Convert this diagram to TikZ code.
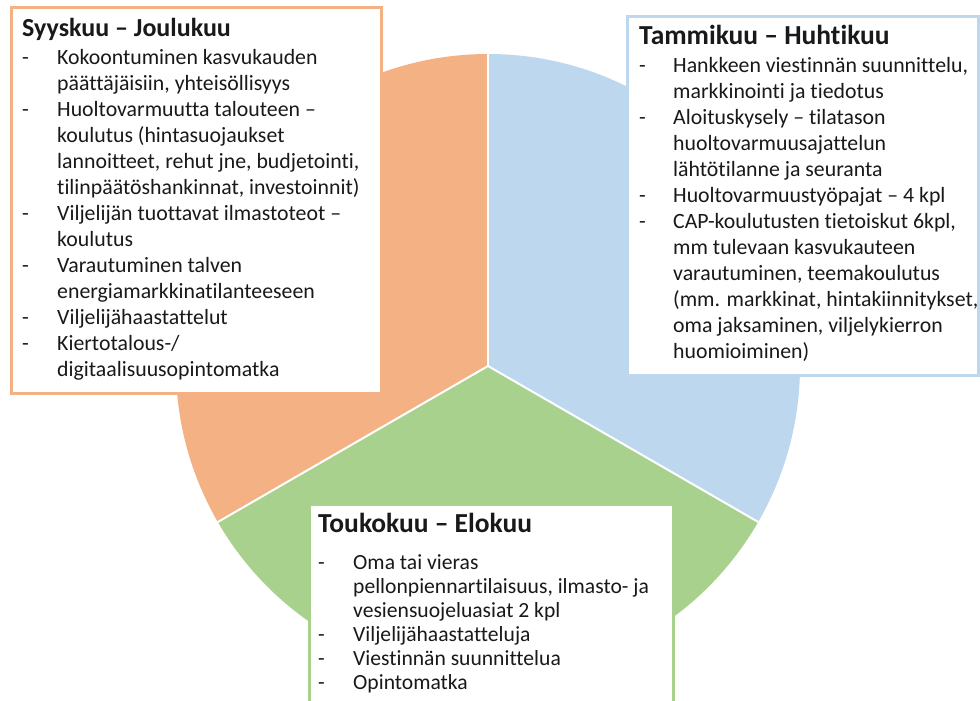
\documentclass[tikz,border=0pt]{standalone}
\usepackage{fontspec}
\setmainfont[Ligatures=NoCommon]{Carlito}
\usetikzlibrary{positioning}

\definecolor{peach}{HTML}{F4B183}
\definecolor{sky}{HTML}{BDD7EE}
\definecolor{leaf}{HTML}{A9D18E}

\tikzset{
  pane/.style={draw=#1, line width=3pt, fill=white, anchor=north west, inner sep=0pt},
  head/.style={font=\fontsize{27.5}{32}\selectfont\bfseries, anchor=base west, inner sep=0pt, text=black!90},
  items/.style={font=\fontsize{21.8}{26}\selectfont, anchor=base west, inner sep=0pt, text=black!90},
  smallitems/.style={items, font=\fontsize{21.6}{24}\selectfont}
}

\begin{document}
\begin{tikzpicture}[x=1pt, y=1pt]
  \useasboundingbox (0,0) rectangle (980,701);
  \clip (0,0) rectangle (980,701);

  % the wheel
  \coordinate (hub) at (488,335);
  \foreach \a/\b/\col in {90/-30/sky, -30/-150/leaf, 210/90/peach}{
    \fill[\col] (hub) -- ++(\a:312) arc[start angle=\a, end angle=\b, radius=312] -- cycle;
  }
  \foreach \a in {90,-30,210}{
    \draw[white, line width=2pt] (hub) -- ++(\a:312);
  }

  % Syyskuu - Joulukuu
  \node[pane=peach, minimum width=370pt, minimum height=386pt] (autumn) at (10,695) {};
  \node[head, font=\fontsize{26}{31}\selectfont\bfseries] (autumnhead) at (22,664) {Syyskuu – Joulukuu};
  \node[items] (autumnlist) at (22,636) {\begin{tabular}[t]{@{}p{35pt}@{}l@{}}
    - & Kokoontuminen kasvukauden\\
      & päättäjäisiin, yhteisöllisyys\\
    - & Huoltovarmuutta talouteen –\\
      & koulutus (hintasuojaukset\\
      & lannoitteet, rehut jne, budjetointi,\\
      & tilinpäätöshankinnat, investoinnit)\\
    - & Viljelijän tuottavat ilmastoteot –\\
      & koulutus\\
    - & Varautuminen talven\\
      & energiamarkkinatilanteeseen\\
    - & Viljelijähaastattelut\\
    - & Kiertotalous-/\\
      & digitaalisuusopintomatka
  \end{tabular}};

  % Tammikuu - Huhtikuu
  \node[pane=sky, minimum width=351pt, minimum height=359pt] (spring) at (626,686) {};
  \node[head] (springhead) at (639,656) {Tammikuu – Huhtikuu};
  \node[items] (springlist) at (639,628) {\begin{tabular}[t]{@{}p{34pt}@{}l@{}}
    - & Hankkeen viestinnän suunnittelu,\\
      & markkinointi ja tiedotus\\
    - & Aloituskysely – tilatason\\
      & huoltovarmuusajattelun\\
      & lähtötilanne ja seuranta\\
    - & Huoltovarmuustyöpajat – 4 kpl\\
    - & CAP-koulutusten tietoiskut 6kpl,\\
      & mm tulevaan kasvukauteen\\
      & varautuminen, teemakoulutus\\
      & (mm. markkinat, hintakiinnitykset,\\
      & oma jaksaminen, viljelykierron\\
      & huomioiminen)
  \end{tabular}};

  % Toukokuu - Elokuu
  \node[pane=leaf, minimum width=364pt, minimum height=220pt] (summer) at (308,198) {};
  \node[head] (summerhead) at (318,168) {Toukokuu – Elokuu};
  \node[smallitems] (summerlist) at (318,131) {\begin{tabular}[t]{@{}p{35pt}@{}l@{}}
    - & Oma tai vieras\\
      & pellonpiennartilaisuus, ilmasto- ja\\
      & vesiensuojeluasiat 2 kpl\\
    - & Viljelijähaastatteluja\\
    - & Viestinnän suunnittelua\\
    - & Opintomatka
  \end{tabular}};
\end{tikzpicture}
\end{document}
